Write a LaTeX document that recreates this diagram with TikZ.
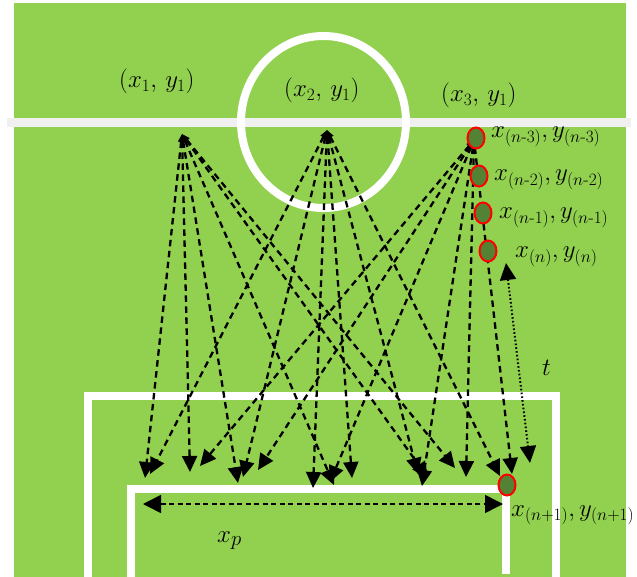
\documentclass[tikz,border=0pt]{standalone}
\usepackage{amsmath}
\usepackage{tikz}
\usetikzlibrary{arrows.meta,shapes.geometric}

\definecolor{gespa}{HTML}{92D050}
\definecolor{pilota}{HTML}{548235}
\definecolor{mig}{HTML}{F0F0F0}

\begin{document}
\begin{tikzpicture}[x=1pt,y=-1pt,
    fletxa/.style={line width=2.3pt, dash pattern=on 6.5pt off 4.5pt,
      {Triangle[length=8pt,width=6pt]}-{Triangle[length=16pt,width=15pt]}},
    bola/.style={ellipse, draw=red, fill=pilota, line width=2pt,
      minimum width=17pt, minimum height=21pt, inner sep=0pt},
    etiq/.style={font=\fontsize{26}{30}\selectfont, inner sep=0pt, anchor=base west},
    gran/.style={font=\fontsize{31}{35}\selectfont, inner sep=0pt, anchor=base west}]
    \useasboundingbox (0,0) rectangle (637,577);
    % Camp: gespa i linies blanques
    \fill[white] (0,0) rectangle (637,577);
    \fill[gespa] (14,3) rectangle (626,577);
    \draw[mig, line width=9pt] (7,122.5) -- (631,122.5);
    \draw[white, line width=8pt] (323.5,122) ellipse [x radius=82.5, y radius=86];
    \draw[white, line width=8pt] (87.5,577) -- (87.5,395.5) -- (555.5,395.5) -- (555.5,577);
    \draw[white, line width=8pt] (131,577) -- (131,489) -- (506,489) -- (506,574);

    % Punts de sortida i d'arribada
    \coordinate (s1) at (182,134);
    \coordinate (s2) at (327,130);
    \coordinate (s3) at (474,140);
    \foreach \nom/\x/\y in {a1/145/478, a2/190/472, a3/238/483, a4/334/485, a5/428/478, a6/455/468,
                            b1/150/474, b2/243/477, b3/313/488, b4/352/478, b5/418/474, b6/500/476,
                            c1/200/466, c2/258/470, c3/330/482, c4/422/486, c5/466/477, c6/512/474}
        \coordinate (\nom) at (\x,\y);

    % Fletxes discontinues
    \foreach \i in {1,...,6} {
        \draw[fletxa] (s1) -- (a\i);
        \draw[fletxa] (s2) -- (b\i);
        \draw[fletxa] (s3) -- (c\i);
    }

    % Amplada x_p i temps t
    \coordinate (xa) at (143,504);
    \coordinate (xb) at (503,504);
    \draw[line width=1.5pt, dash pattern=on 5pt off 3.5pt,
          {Triangle[length=18pt,width=18pt]}-{Triangle[length=18pt,width=18pt]}] (xa) -- (xb);
    \coordinate (ta) at (506,263);
    \coordinate (tb) at (530,463);
    \draw[line width=2pt, dash pattern=on 1.6pt off 2.2pt,
          {Triangle[length=17pt,width=16pt]}-{Triangle[length=17pt,width=16pt]}] (ta) -- (tb);

    % Posicions de la pilota
    \node[bola] (n3) at (476,138) {};
    \node[bola] (n2) at (479,176) {};
    \node[bola] (n1) at (483,213) {};
    \node[bola] (n0) at (488,251) {};
    \node[bola] (nn) at (507,485) {};

    % Etiquetes
    \node[etiq] (e1) at (119,88) {$(x_1,\, y_1)$};
    \node[etiq] (e2) at (284,97) {$(x_2,\, y_1)$};
    \node[etiq] (e3) at (441,102) {$(x_3,\, y_1)$};
    \node[etiq] (l3) at (491,138) {$x_{(n\text{-}3)},y_{(n\text{-}3)}$};
    \node[etiq] (l2) at (494,181) {$x_{(n\text{-}2)},y_{(n\text{-}2)}$};
    \node[etiq] (l1) at (499,219) {$x_{(n\text{-}1)},y_{(n\text{-}1)}$};
    \node[etiq] (l0) at (515,258) {$x_{(n)},y_{(n)}$};
    \node[etiq] (ll) at (511,516) {$x_{(n+1)},y_{(n+1)}$};
    \node[gran] (t) at (542,375) {$t$};
    \node[gran] (xp) at (217,542) {$x_p$};
\end{tikzpicture}
\end{document}
